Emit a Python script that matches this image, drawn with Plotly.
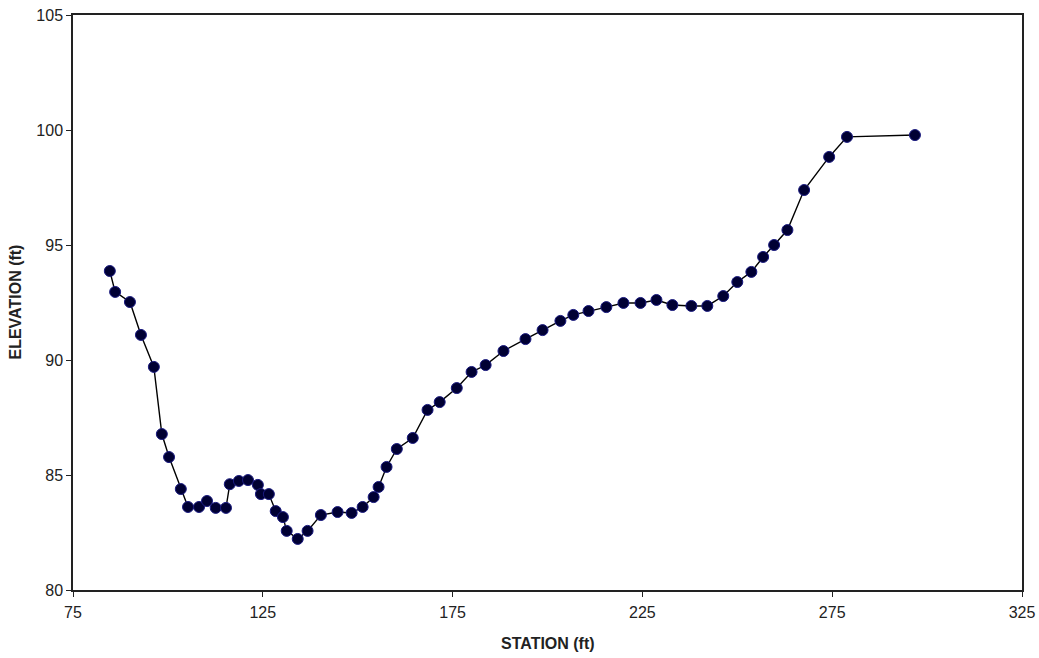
import plotly.graph_objects as go

station = [84.7, 86.1, 90.0, 92.9, 96.3, 98.4, 100.3, 103.4, 105.3, 108.2,
           110.3, 112.6, 115.3, 116.3, 118.7, 121.1, 123.7, 124.5, 126.6, 128.4,
           130.3, 131.3, 134.2, 136.8, 140.3, 144.7, 148.4, 151.3, 154.2, 155.5,
           157.6, 160.3, 164.5, 168.4, 171.6, 176.1, 180.0, 183.7, 188.4, 194.2,
           198.7, 203.4, 206.8, 210.8, 215.5, 220.0, 224.5, 228.7, 232.9, 237.9,
           242.1, 246.3, 250.0, 253.7, 256.8, 259.7, 263.2, 267.6, 274.2, 278.9,
           296.8]
elevation = [93.87, 92.96, 92.52, 91.09, 89.70, 86.78, 85.78, 84.39, 83.61, 83.61,
             83.87, 83.57, 83.57, 84.60, 84.74, 84.78, 84.57, 84.17, 84.17, 83.43,
             83.17, 82.57, 82.22, 82.57, 83.26, 83.39, 83.35, 83.61, 84.04, 84.48,
             85.35, 86.13, 86.61, 87.83, 88.17, 88.78, 89.48, 89.78, 90.39, 90.91,
             91.30, 91.70, 91.96, 92.13, 92.30, 92.48, 92.48, 92.61, 92.39, 92.35,
             92.35, 92.78, 93.39, 93.83, 94.48, 95.00, 95.65, 97.39, 98.83, 99.70,
             99.78]

x_ticks = [75, 125, 175, 225, 275, 325]
y_ticks = [80, 85, 90, 95, 100, 105]

fig = go.Figure()
fig.add_trace(go.Scatter(
    x=station, y=elevation, mode="lines+markers",
    line=dict(color="black", width=1.4),
    marker=dict(size=11, color="#000033", line=dict(color="#1a1a80", width=1)),
    showlegend=False,
))

font_main = "Arial, Liberation Sans, sans-serif"
fig.update_layout(
    width=1039, height=658,
    margin=dict(l=73, r=17, t=15, b=68),
    paper_bgcolor="white", plot_bgcolor="white",
    font=dict(family=font_main, size=16, color="#222"),
)
fig.update_xaxes(
    range=[75, 325], tickvals=x_ticks, ticktext=[str(v) for v in x_ticks],
    showgrid=False, zeroline=False, automargin=False,
    showline=True, linecolor="#222", linewidth=1.5, mirror=True,
    ticks="outside", ticklen=5, tickcolor="#222",
    tickfont=dict(size=16),
    ticklabelstandoff=2, ticklabeloverflow="allow",
)
fig.update_yaxes(
    range=[80, 105], tickvals=y_ticks, ticktext=[str(v) for v in y_ticks],
    showgrid=False, zeroline=False, automargin=False,
    showline=True, linecolor="#222", linewidth=1.5, mirror=True,
    ticks="outside", ticklen=5, tickcolor="#222",
    tickfont=dict(size=16), ticklabeloverflow="allow",
)
fig.add_annotation(
    text="<b>STATION (ft)</b>", xref="paper", yref="paper",
    x=0.5, y=0, yshift=-53, xanchor="center", yanchor="middle", showarrow=False,
    font=dict(size=16, color="#222"),
)
fig.add_annotation(
    text="<b>ELEVATION (ft)</b>", xref="paper", yref="paper",
    x=0, y=0.5, xshift=-58, xanchor="center", yanchor="middle",
    textangle=-90, showarrow=False,
    font=dict(size=16, color="#222"),
)

fig.write_html("out.html",
               config={"displayModeBar": False},
               post_script="document.body.style.margin='0';document.body.style.overflow='hidden';")
